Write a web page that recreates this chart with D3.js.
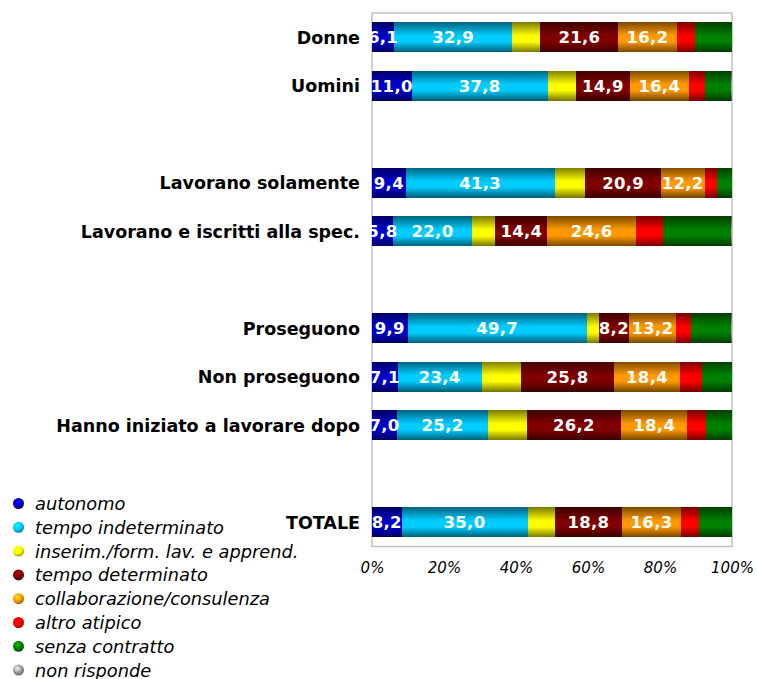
<!DOCTYPE html>
<html>
<head>
<meta charset="utf-8">
<script src="https://cdn.jsdelivr.net/npm/d3@7"></script>
<style>
  html, body { margin: 0; padding: 0; background: #fff; }
  svg { display: block; }
</style>
</head>
<body>
<svg id="chart" width="757" height="679"></svg>
<script>
"use strict";

// rows, grouped; an empty slot is left between groups
const groups = [
  ["Donne", "Uomini"],
  ["Lavorano solamente", "Lavorano e iscritti alla spec."],
  ["Proseguono", "Non proseguono", "Hanno iniziato a lavorare dopo"],
  ["TOTALE"]
];
const categories = groups.flat();

const seriesNames = [
  "autonomo",
  "tempo indeterminato",
  "inserim./form. lav. e apprend.",
  "tempo determinato",
  "collaborazione/consulenza",
  "altro atipico",
  "senza contratto",
  "non risponde"
];
const seriesColors = ["#0000cc", "#00ccff", "#ffff00", "#800000", "#ff9900", "#ff0000", "#008000", "#a0a0a0"];

// percentages, same order as categories
const autonomo     = [6.1, 11.0, 9.4, 5.8, 9.9, 7.1, 7.0, 8.2];
const tempoIndet   = [32.9, 37.8, 41.3, 22.0, 49.7, 23.4, 25.2, 35.0];
const inserimento  = [7.8, 7.9, 8.6, 6.5, 3.5, 10.9, 10.8, 7.5];
const tempoDet     = [21.6, 14.9, 20.9, 14.4, 8.2, 25.8, 26.2, 18.8];
const collab       = [16.2, 16.4, 12.2, 24.6, 13.2, 18.4, 18.4, 16.3];
const altroAtipico = [5.2, 4.6, 3.5, 7.6, 4.2, 6.0, 5.2, 5.0];
const senzaContr   = [10.2, 7.1, 4.1, 18.7, 10.9, 8.4, 7.2, 9.2];
const nonRisponde  = [0.0, 0.3, 0.0, 0.4, 0.4, 0.0, 0.0, 0.0];
const seriesValues = [autonomo, tempoIndet, inserimento, tempoDet, collab, altroAtipico, senzaContr, nonRisponde];

// only these series carry a value label
const labelledSeries = [0, 1, 3, 4];

const tickValues = [0, 20, 40, 60, 80, 100];

const svg = d3.select("#chart");
const defs = svg.append("defs");

// band domain with gap slots between groups
const slots = [];
groups.forEach((g, gi) => {
  if (gi > 0) slots.push("gap" + gi);
  g.forEach(c => slots.push(c));
});

const x = d3.scaleLinear().domain([0, 100]).range([372, 732]);
const y = d3.scaleBand().domain(slots).range([13, 546.5]).paddingInner(0.38).paddingOuter(0.19);

// cylinder-like vertical gradients for bars, sphere gradients for legend dots
seriesColors.forEach((c, i) => {
  const base = d3.color(c);
  const g = defs.append("linearGradient").attr("id", "bar" + i)
    .attr("x1", 0).attr("y1", 0).attr("x2", 0).attr("y2", 1);
  g.append("stop").attr("offset", "0%").attr("stop-color", base.darker(2));
  g.append("stop").attr("offset", "45%").attr("stop-color", base);
  g.append("stop").attr("offset", "65%").attr("stop-color", base);
  g.append("stop").attr("offset", "100%").attr("stop-color", base.darker(2.2));

  const r = defs.append("radialGradient").attr("id", "dot" + i)
    .attr("cx", "40%").attr("cy", "35%").attr("r", "65%");
  r.append("stop").attr("offset", "0%").attr("stop-color", base.brighter(1.2));
  r.append("stop").attr("offset", "55%").attr("stop-color", base);
  r.append("stop").attr("offset", "100%").attr("stop-color", base.darker(1.3));
});

// plot frame
svg.append("rect")
  .attr("x", x(0)).attr("y", 13)
  .attr("width", x(100) - x(0)).attr("height", 546.5 - 13)
  .attr("fill", "none").attr("stroke", "#c0c0c0").attr("stroke-width", 1.5);

// stacked segments
const rows = categories.map((c, ci) => {
  let acc = 0;
  return seriesValues.map((vals, si) => {
    const seg = {cat: c, si, v: vals[ci], x0: acc, x1: acc + vals[ci]};
    acc += vals[ci];
    return seg;
  });
});
const segs = rows.flat().filter(d => d.v > 0);

svg.append("g").selectAll("rect").data(segs).enter().append("rect")
  .attr("x", d => x(d.x0))
  .attr("y", d => y(d.cat))
  .attr("width", d => x(d.x1) - x(d.x0))
  .attr("height", y.bandwidth())
  .attr("fill", d => `url(#bar${d.si})`)
  .attr("shape-rendering", "crispEdges");

svg.append("g").selectAll("text")
  .data(segs.filter(d => labelledSeries.includes(d.si)))
  .enter().append("text")
  .attr("x", d => (x(d.x0) + x(d.x1)) / 2)
  .attr("y", d => y(d.cat) + y.bandwidth() / 2)
  .attr("dy", "0.36em")
  .attr("text-anchor", "middle")
  .attr("fill", "#fff")
  .style("font", "bold 16.5px Verdana, 'DejaVu Sans', sans-serif")
  .style("letter-spacing", "0.3px")
  .text(d => d.v.toFixed(1).replace(".", ","));

// category labels
svg.append("g").selectAll("text").data(categories).enter().append("text")
  .attr("x", 360)
  .attr("y", d => y(d) + y.bandwidth() / 2)
  .attr("dy", "0.36em")
  .attr("text-anchor", "end")
  .attr("fill", "#000")
  .style("font", "bold 17.5px Verdana, 'DejaVu Sans', sans-serif")
  .text(d => d);

// x axis labels
const xAxis = d3.axisBottom(x).tickValues(tickValues).tickSize(0).tickPadding(0)
  .tickFormat(d => d + "%");
const ax = svg.append("g").attr("transform", "translate(0,562)").call(xAxis);
ax.select(".domain").remove();
ax.selectAll("text")
  .attr("dy", "0.71em")
  .attr("fill", "#000")
  .style("font", "italic 15px Verdana, 'DejaVu Sans', sans-serif");

// legend
const legend = svg.append("g").selectAll("g").data(seriesNames).enter().append("g")
  .attr("transform", (d, i) => `translate(18.5,${503.5 + i * 23.8})`);
legend.append("circle").attr("r", 5.5).attr("fill", (d, i) => `url(#dot${i})`);
legend.append("text")
  .attr("x", 16.5).attr("dy", "0.36em")
  .attr("fill", "#000")
  .style("font", "italic 17.8px Verdana, 'DejaVu Sans', sans-serif")
  .text(d => d);
</script>
</body>
</html>
